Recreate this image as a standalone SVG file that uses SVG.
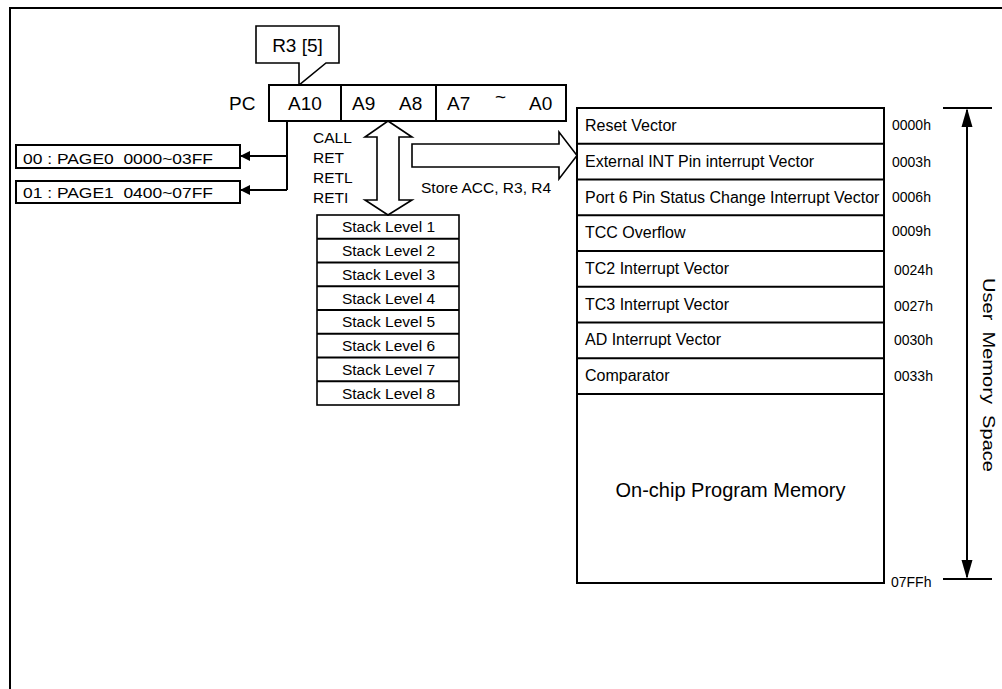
<svg xmlns="http://www.w3.org/2000/svg" width="1002" height="689" viewBox="0 0 1002 689">
<style>
text{font-family:"Liberation Sans",Arial,sans-serif;fill:#000}
.box{fill:#fff;stroke:#000;stroke-width:2}
.thin{fill:#fff;stroke:#000;stroke-width:1.6}
.ln{fill:none;stroke:#000;stroke-width:2}
.pc{font-size:19px}
.sm{font-size:15.5px}
.mem{font-size:16px}
.addr{font-size:14px}
.stk{font-size:15.5px;text-anchor:middle}
</style>
<defs>
<marker id="ah" viewBox="0 0 10 10" refX="10" refY="5" markerWidth="20" markerHeight="10" markerUnits="userSpaceOnUse" orient="auto">
<path d="M0,0 L10,5 L0,10 Z" fill="#000"/>
</marker>
</defs>
<rect x="0" y="0" width="1002" height="689" fill="#fff"/>
<path d="M10,689 V8 H1002" class="ln" stroke-width="2.5"/>

<g id="callout">
<path d="M299,63 H256 V26 H339 V63 H326 L299,85 Z" class="thin"/>
<text x="297.5" y="52" class="pc" text-anchor="middle">R3 [5]</text>
</g>

<g id="pc">
<text x="229" y="110" class="pc">PC</text>
<rect x="269" y="85" width="297" height="36" class="box"/>
<line x1="341" y1="85" x2="341" y2="121" class="ln"/>
<line x1="436" y1="85" x2="436" y2="121" class="ln"/>
<text x="305" y="110" class="pc" text-anchor="middle">A10</text>
<text x="352" y="110" class="pc">A9</text>
<text x="399" y="110" class="pc">A8</text>
<text x="447" y="110" class="pc">A7</text>
<text x="495" y="103" class="pc">~</text>
<text x="529" y="110" class="pc">A0</text>
</g>

<g id="page0">
<rect x="16" y="145" width="224" height="23" class="box"/>
<text x="23" y="164" font-size="14" textLength="190" lengthAdjust="spacingAndGlyphs" xml:space="preserve">00 : PAGE0  0000~03FF</text>
</g>
<g id="page1">
<rect x="16" y="181" width="224" height="22" class="box"/>
<text x="23" y="198" font-size="14" textLength="190" lengthAdjust="spacingAndGlyphs" xml:space="preserve">01 : PAGE1  0400~07FF</text>
</g>

<g id="stack">
<rect x="317" y="215" width="142" height="190" class="thin"/>
<g class="ln" stroke-width="1.6">
<line x1="317" y1="238.75" x2="459" y2="238.75"/>
<line x1="317" y1="262.5" x2="459" y2="262.5"/>
<line x1="317" y1="286.25" x2="459" y2="286.25"/>
<line x1="317" y1="310" x2="459" y2="310"/>
<line x1="317" y1="333.75" x2="459" y2="333.75"/>
<line x1="317" y1="357.5" x2="459" y2="357.5"/>
<line x1="317" y1="381.25" x2="459" y2="381.25"/>
</g>
<text x="388.5" y="232" class="stk">Stack Level 1</text>
<text x="388.5" y="256" class="stk">Stack Level 2</text>
<text x="388.5" y="279.5" class="stk">Stack Level 3</text>
<text x="388.5" y="303.5" class="stk">Stack Level 4</text>
<text x="388.5" y="327" class="stk">Stack Level 5</text>
<text x="388.5" y="351" class="stk">Stack Level 6</text>
<text x="388.5" y="374.5" class="stk">Stack Level 7</text>
<text x="388.5" y="398.5" class="stk">Stack Level 8</text>
</g>

<g id="stack-ops">
<text x="313" y="142.5" class="sm">CALL</text>
<text x="313" y="162.5" class="sm">RET</text>
<text x="313" y="182.5" class="sm">RETL</text>
<text x="313" y="202.5" class="sm">RETI</text>
</g>
<text x="421" y="193" class="sm">Store ACC, R3, R4</text>

<g id="memory">
<rect x="577" y="108" width="307" height="475" class="box" stroke-width="2.4"/>
<g class="ln">
<line x1="577" y1="143.75" x2="884" y2="143.75"/>
<line x1="577" y1="179.5" x2="884" y2="179.5"/>
<line x1="577" y1="215.25" x2="884" y2="215.25"/>
<line x1="577" y1="251" x2="884" y2="251"/>
<line x1="577" y1="286.75" x2="884" y2="286.75"/>
<line x1="577" y1="322.5" x2="884" y2="322.5"/>
<line x1="577" y1="358.25" x2="884" y2="358.25"/>
<line x1="577" y1="394" x2="884" y2="394"/>
</g>
<text x="585" y="131" class="mem">Reset Vector</text>
<text x="585" y="166.5" class="mem">External INT Pin interrupt Vector</text>
<text x="585" y="202.5" class="mem">Port 6 Pin Status Change Interrupt Vector</text>
<text x="585" y="238" class="mem">TCC Overflow</text>
<text x="585" y="274" class="mem">TC2 Interrupt Vector</text>
<text x="585" y="309.5" class="mem">TC3 Interrupt Vector</text>
<text x="585" y="345" class="mem">AD Interrupt Vector</text>
<text x="585" y="381" class="mem">Comparator</text>
<text x="730.5" y="497" font-size="20" text-anchor="middle">On-chip Program Memory</text>
</g>

<g id="addresses">
<text x="892" y="130" class="addr">0000h</text>
<text x="892" y="166.5" class="addr">0003h</text>
<text x="892" y="202" class="addr">0006h</text>
<text x="892" y="235.5" class="addr">0009h</text>
<text x="894" y="275" class="addr">0024h</text>
<text x="894" y="311" class="addr">0027h</text>
<text x="894" y="345" class="addr">0030h</text>
<text x="894" y="381" class="addr">0033h</text>
<text x="891" y="587" class="addr">07FFh</text>
</g>

<g id="user-space">
<line x1="943" y1="108" x2="992" y2="108" class="ln"/>
<line x1="943" y1="579" x2="992" y2="579" class="ln"/>
<text transform="translate(983,278) rotate(90)" font-size="17" textLength="194" lengthAdjust="spacingAndGlyphs" xml:space="preserve">User  Memory  Space</text>
</g>

<g id="connectors">
<path d="M287,121 V190" class="ln"/>
<path d="M287,156 H240" class="ln" marker-end="url(#ah)"/>
<path d="M287,190 H240" class="ln" marker-end="url(#ah)"/>
<polygon points="388,121 412,137 399,137 399,200 412,200 388,215 365,200 377,200 377,137 365,137" class="thin"/>
<polygon points="412,144 559,144 559,132 577,155.5 559,179 559,167 412,167" class="thin"/>
<path d="M967,110 V577" class="ln"/>
<polygon points="967,108 961.5,127 972.5,127" fill="#000"/>
<polygon points="967,579 961.5,560 972.5,560" fill="#000"/>
</g>
</svg>
